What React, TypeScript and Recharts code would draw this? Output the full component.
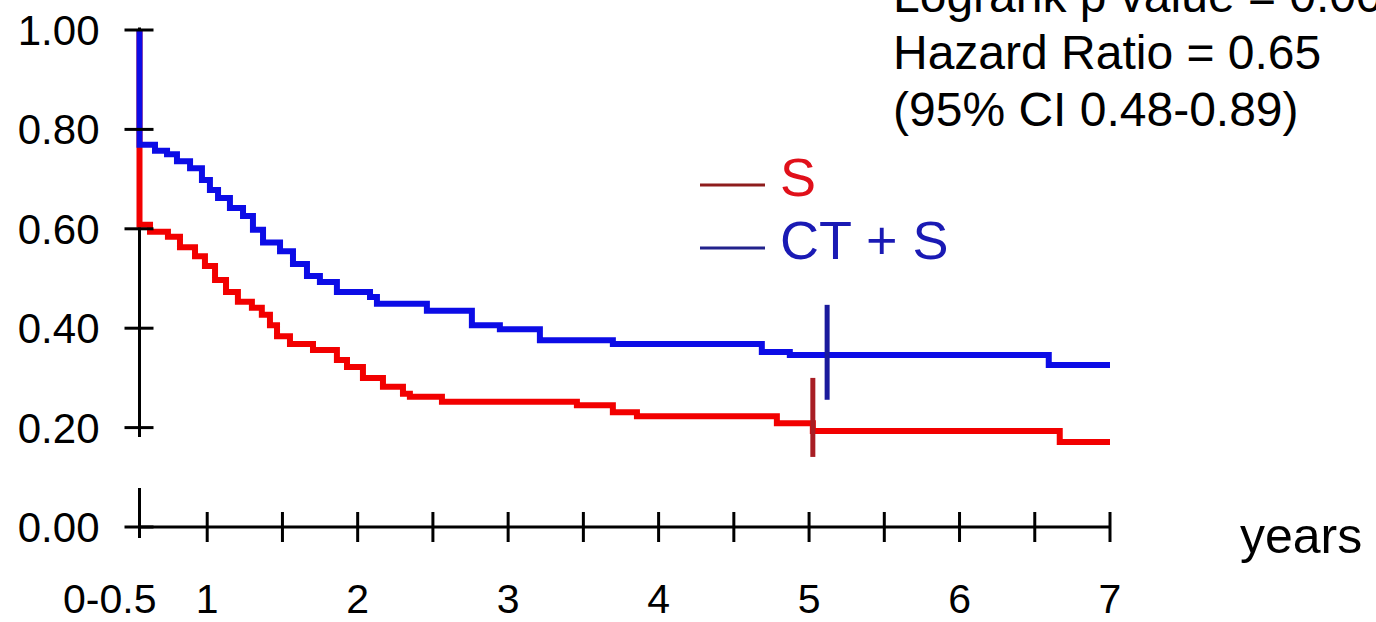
import React from 'react';
import { LineChart, Line, XAxis, YAxis, ReferenceLine, Legend } from 'recharts';

// Kaplan–Meier survival steps (time in years, survival proportion)
const sYears = [0.55, 0.55, 0.62, 0.739, 0.819, 0.919, 0.985, 1.052, 1.125, 1.204, 1.297, 1.363, 1.417, 1.464, 1.55, 1.703, 1.862, 1.929, 2.035, 2.168, 2.301, 2.347, 2.56, 3.457, 3.696, 3.856, 4.786, 5.025, 6.666, 7.0];
const sSurv = [1.0, 0.608, 0.594, 0.584, 0.563, 0.545, 0.525, 0.497, 0.473, 0.453, 0.441, 0.427, 0.406, 0.384, 0.368, 0.356, 0.336, 0.322, 0.3, 0.282, 0.268, 0.262, 0.252, 0.245, 0.231, 0.223, 0.209, 0.193, 0.171, 0.171];

const ctsYears = [0.55, 0.55, 0.653, 0.733, 0.799, 0.886, 0.965, 1.018, 1.072, 1.151, 1.238, 1.304, 1.371, 1.484, 1.57, 1.663, 1.749, 1.862, 2.082, 2.128, 2.46, 2.759, 2.945, 3.211, 3.696, 4.686, 4.872, 6.593, 7.0];
const ctsSurv = [1.0, 0.769, 0.757, 0.75, 0.736, 0.722, 0.698, 0.678, 0.662, 0.642, 0.626, 0.598, 0.5725, 0.555, 0.529, 0.505, 0.493, 0.473, 0.463, 0.449, 0.435, 0.406, 0.398, 0.376, 0.368, 0.352, 0.346, 0.326, 0.326];

// 5-year marks: [time, low, high]
const sMark = [5.025, 0.141, 0.3];
const ctsMark = [5.12, 0.256, 0.447];

// axes
const xDomain = [0.55, 7];
const xTicks = [0.55, 1, 1.5, 2, 2.5, 3, 3.5, 4, 4.5, 5, 5.5, 6, 6.5, 7];
const xTickLabels = ['0-0.5', '1', '', '2', '', '3', '', '4', '', '5', '', '6', '', '7'];
const yTicks = [0, 0.2, 0.4, 0.6, 0.8, 1.0];
const yTickLabels = ['0.00', '0.20', '0.40', '0.60', '0.80', '1.00'];
const yAxisSpan = [0.181, 1.005];

const seriesNames = ['S', 'CT + S'];
const annotationLines = ['Logrank p value = 0.006', 'Hazard Ratio = 0.65', '(95% CI 0.48-0.89)'];

const sData = sYears.map((t, i) => ({ t, s: sSurv[i] }));
const ctsData = ctsYears.map((t, i) => ({ t, s: ctsSurv[i] }));

const FONT = 'Liberation Sans, Arial, sans-serif';
const RED = '#f20000';
const BLUE = '#0c0ce6';

const YTick = (props: any) => {
  const { x, y, payload } = props;
  const idx = yTicks.indexOf(payload.value);
  return (
    <g>
      <line x1={x - 15} x2={x + 14} y1={y} y2={y} stroke="#000" strokeWidth={3} />
      <text x={x - 40} y={y + 15} textAnchor="end" fontSize={42} fontFamily={FONT} fill="#000">
        {yTickLabels[idx]}
      </text>
    </g>
  );
};

const XTick = (props: any) => {
  const { x, y, payload } = props;
  const idx = xTicks.indexOf(payload.value);
  const first = idx === 0;
  return (
    <g>
      <line x1={x} x2={x} y1={first ? y - 39 : y - 15} y2={first ? y + 11 : y + 15} stroke="#000" strokeWidth={3} />
      <text
        x={first ? x + 17 : x}
        y={y + 86}
        textAnchor={first ? 'end' : 'middle'}
        fontSize={41}
        fontFamily={FONT}
        fill="#000"
      >
        {xTickLabels[idx]}
      </text>
    </g>
  );
};

const legendLineColors: Record<string, string> = { S: '#8e1c1c', 'CT + S': '#22228c' };
const legendTextColors: Record<string, string> = { S: '#e0101a', 'CT + S': '#1a1ab4' };

const renderLegend = (props: any) => {
  const payload = [...(props.payload || [])].sort(
    (a: any, b: any) => seriesNames.indexOf(a.value) - seriesNames.indexOf(b.value)
  );
  return (
    <svg width={340} height={150} style={{ display: 'block', overflow: 'visible' }}>
      {payload.map((entry: any, i: number) => (
        <g key={entry.value} transform={`translate(0, ${i * 63})`}>
          <line x1={10} x2={75} y1={35} y2={35} stroke={legendLineColors[entry.value]} strokeWidth={3} />
          <text x={90} y={46} fontSize={54} fontFamily={FONT} fill={legendTextColors[entry.value]}>
            {entry.value}
          </text>
        </g>
      ))}
    </svg>
  );
};

export default function App() {
  return (
    <div style={{ position: 'absolute', left: 0, top: 0, width: 1376, height: 622, overflow: 'hidden', background: '#fff' }}>
      <LineChart width={1376} height={622} margin={{ top: 30, right: 266, bottom: 94, left: 138.5 }}>
        <XAxis
          type="number"
          dataKey="t"
          domain={xDomain}
          ticks={xTicks}
          interval={0}
          height={1}
          tickSize={0}
          tickMargin={0}
          tickLine={false}
          axisLine={{ stroke: '#000', strokeWidth: 3 }}
          tick={XTick}
        />
        <YAxis
          type="number"
          domain={[0, 1]}
          ticks={yTicks}
          interval={0}
          width={1}
          tickSize={0}
          tickMargin={0}
          tickLine={false}
          axisLine={false}
          tick={YTick}
        />
        <ReferenceLine
          segment={[{ x: xDomain[0], y: yAxisSpan[0] }, { x: xDomain[0], y: yAxisSpan[1] }]}
          stroke="#000"
          strokeWidth={3}
          ifOverflow="visible"
        />
        <Line
          data={sData}
          dataKey="s"
          name={seriesNames[0]}
          type="stepAfter"
          stroke={RED}
          strokeWidth={6}
          dot={false}
          activeDot={false}
          isAnimationActive={false}
          strokeLinejoin="miter"
        />
        <Line
          data={ctsData}
          dataKey="s"
          name={seriesNames[1]}
          type="stepAfter"
          stroke={BLUE}
          strokeWidth={6}
          dot={false}
          activeDot={false}
          isAnimationActive={false}
          strokeLinejoin="miter"
        />
        <ReferenceLine
          segment={[{ x: sMark[0], y: sMark[1] }, { x: sMark[0], y: sMark[2] }]}
          stroke="#a81e24"
          strokeWidth={5}
        />
        <ReferenceLine
          segment={[{ x: ctsMark[0], y: ctsMark[1] }, { x: ctsMark[0], y: ctsMark[2] }]}
          stroke="#1a1a9c"
          strokeWidth={5}
        />
        <Legend
          layout="vertical"
          align="center"
          verticalAlign="middle"
          content={renderLegend}
          wrapperStyle={{ left: 690, top: 150, width: 340, height: 150 }}
        />
      </LineChart>
      <svg width={1376} height={622} style={{ position: 'absolute', left: 0, top: 0, pointerEvents: 'none' }}>
        {annotationLines.map((t, i) => (
          <text key={i} x={893} y={12 + i * 57} fontSize={48} fontFamily={FONT} fill="#000">
            {t}
          </text>
        ))}
        <text x={1240} y={553} fontSize={50} fontFamily={FONT} fill="#000">years</text>
      </svg>
    </div>
  );
}
